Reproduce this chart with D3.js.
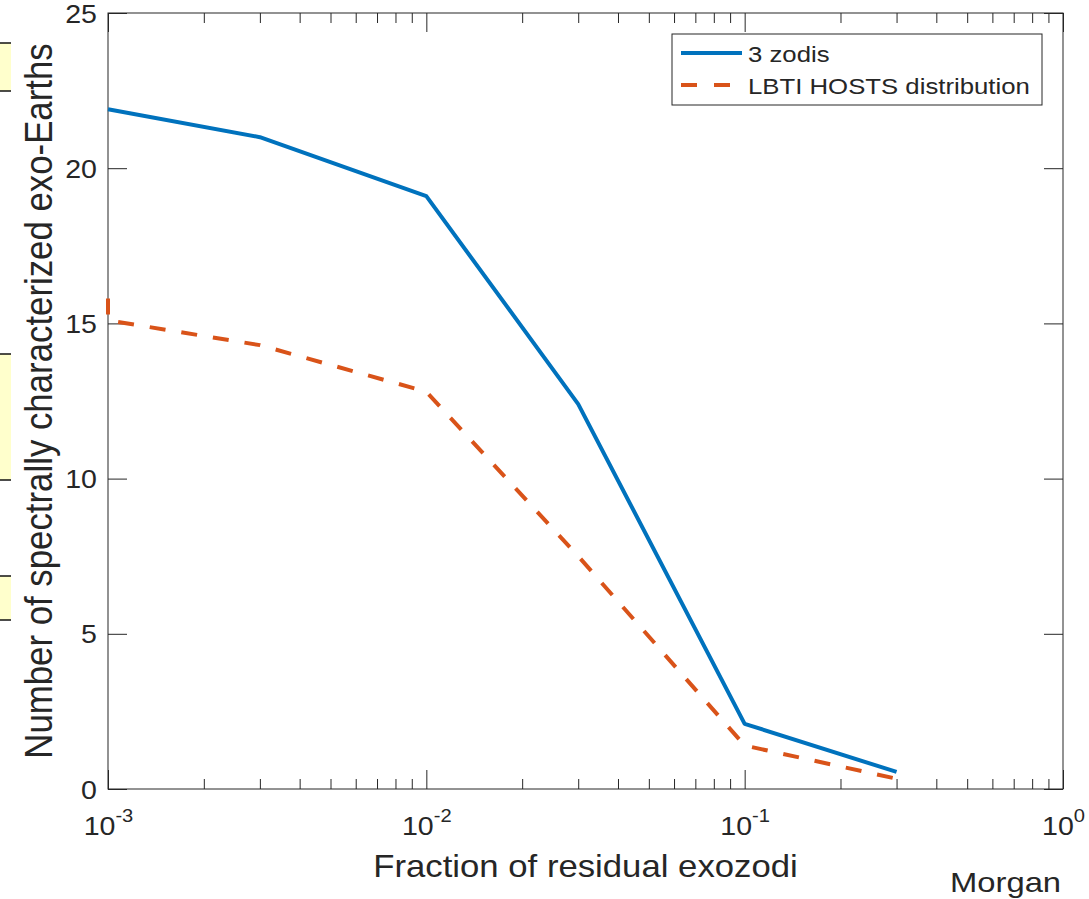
<!DOCTYPE html>
<html>
<head>
<meta charset="utf-8">
<script src="https://cdn.jsdelivr.net/npm/d3@7"></script>
<style>
  body { margin: 0; background: #fff; }
  svg { display: block; }
  text { font-family: "Liberation Sans", Arial, Helvetica, sans-serif; fill: #262626; }
</style>
</head>
<body>
<div id="chart"></div>
<script>
// data
var fracX = [0.001, 0.003, 0.01, 0.03, 0.1, 0.3];
var zodis3 = [21.9, 21.0, 19.1, 12.4, 2.1, 0.55];
var lbtiX = [0.001, 0.001, 0.003, 0.01, 0.03, 0.1, 0.3];
var lbtiY = [15.8, 15.1, 14.3, 12.8, 7.5, 1.4, 0.33];
var seriesNames = ['3 zodis', 'LBTI HOSTS distribution'];
var xTickExp = [-3, -2, -1, 0];
var yTicks = [0, 5, 10, 15, 20, 25];

var W = 1089, H = 899;
var sx = 1.12; // the reference is a bit stretched sideways
var margin = {left: 108, right: 1089 - 1063, top: 13, bottom: 899 - 789};
var blue = '#0072BD', red = '#D95319', axCol = '#262626';

var svg = d3.select('#chart').append('svg')
  .attr('width', W)
  .attr('height', H);

// bits of the document behind the figure, left edge
[[43, 91], [354, 480], [576, 620]].forEach(function(b) {
  svg.append('rect')
    .attr('x', 0).attr('y', b[0])
    .attr('width', 11).attr('height', b[1] - b[0])
    .attr('fill', '#ffffcc');
  b.forEach(function(yy) {
    svg.append('line')
      .attr('x1', 0).attr('x2', 11).attr('y1', yy).attr('y2', yy)
      .attr('stroke', '#111').attr('stroke-width', 1.5);
  });
});

var x = d3.scaleLog().domain([1e-3, 1]).range([margin.left, W - margin.right]);
var y = d3.scaleLinear().domain([0, 25]).range([H - margin.bottom, margin.top]);

var majors = xTickExp.map(function(e) { return Math.pow(10, e); });
var minors = [];
xTickExp.slice(0, -1).forEach(function(e) {
  for (var k = 2; k <= 9; k++) minors.push(k * Math.pow(10, e));
});

function styleAxis(g) {
  g.select('.domain').remove();
  g.selectAll('line').attr('stroke', axCol).attr('stroke-width', 1);
}

// box
svg.append('rect')
  .attr('x', x.range()[0]).attr('y', y.range()[1])
  .attr('width', x.range()[1] - x.range()[0])
  .attr('height', y.range()[0] - y.range()[1])
  .attr('fill', 'none').attr('stroke', axCol).attr('stroke-width', 1);

// bottom and top axes, major + minor ticks, inward
var xAxisG = svg.append('g')
  .attr('transform', 'translate(0,' + y(0) + ')')
  .call(d3.axisBottom(x).tickValues(majors).tickSize(-19).tickFormat(''))
  .call(styleAxis);
svg.append('g')
  .attr('transform', 'translate(0,' + y(0) + ')')
  .call(d3.axisBottom(x).tickValues(minors).tickSize(-10).tickFormat(''))
  .call(styleAxis);
svg.append('g')
  .attr('transform', 'translate(0,' + y(25) + ')')
  .call(d3.axisTop(x).tickValues(majors).tickSize(-19).tickFormat(''))
  .call(styleAxis);
svg.append('g')
  .attr('transform', 'translate(0,' + y(25) + ')')
  .call(d3.axisTop(x).tickValues(minors).tickSize(-10).tickFormat(''))
  .call(styleAxis);

// x tick labels as 10^n
xAxisG.selectAll('.tick').each(function(d, i) {
  var t = d3.select(this).append('text')
    .attr('y', 46)
    .attr('text-anchor', 'middle')
    .attr('font-size', 25.5)
    .attr('transform', 'scale(' + sx + ',1)');
  t.append('tspan').text('10');
  t.append('tspan').attr('dy', -13).attr('font-size', 18).text(xTickExp[i]);
});

// left / right axes
svg.append('g')
  .attr('transform', 'translate(' + x(1e-3) + ',0)')
  .call(d3.axisLeft(y).tickValues(yTicks).tickSize(-19).tickPadding(11))
  .call(styleAxis)
  .selectAll('text')
  .attr('font-size', 25.5)
  .attr('fill', axCol)
  .attr('x', -11 / sx)
  .attr('dy', '0.36em')
  .attr('transform', 'scale(' + sx + ',1)');
svg.append('g')
  .attr('transform', 'translate(' + x(1) + ',0)')
  .call(d3.axisRight(y).tickValues(yTicks).tickSize(-19).tickFormat(''))
  .call(styleAxis);

// lines
svg.append('clipPath').attr('id', 'plotclip').append('rect')
  .attr('x', x.range()[0] - 3).attr('y', y.range()[1])
  .attr('width', x.range()[1] - x.range()[0] + 3)
  .attr('height', y.range()[0] - y.range()[1]);

var line = d3.line()
  .x(function(d) { return x(d[0]); })
  .y(function(d) { return y(d[1]); });

svg.append('path')
  .datum(lbtiX.map(function(v, i) { return [v, lbtiY[i]]; }))
  .attr('d', line)
  .attr('fill', 'none')
  .attr('stroke', red)
  .attr('stroke-width', 4)
  .attr('stroke-dasharray', '16,16')
  .attr('clip-path', 'url(#plotclip)');

svg.append('path')
  .datum(fracX.map(function(v, i) { return [v, zodis3[i]]; }))
  .attr('d', line)
  .attr('fill', 'none')
  .attr('stroke', blue)
  .attr('stroke-width', 4)
  .attr('stroke-linejoin', 'round')
  .attr('clip-path', 'url(#plotclip)');

// legend
var legend = svg.append('g').attr('transform', 'translate(672,34)');
legend.append('rect')
  .attr('width', 370).attr('height', 71)
  .attr('fill', '#fff').attr('stroke', axCol).attr('stroke-width', 1);
var leg = legend.selectAll('.leg')
  .data(seriesNames)
  .enter().append('g')
  .attr('class', 'leg')
  .attr('transform', function(d, i) { return 'translate(0,' + (19 + i * 32) + ')'; });
leg.append('line')
  .attr('x1', 9).attr('x2', 70)
  .attr('stroke', function(d, i) { return i ? red : blue; })
  .attr('stroke-width', 4)
  .attr('stroke-dasharray', function(d, i) { return i ? '16,17' : null; });
leg.append('text')
  .attr('x', 76 / sx)
  .attr('y', 9)
  .attr('font-size', 23)
  .attr('transform', 'scale(' + sx + ',1)')
  .text(function(d) { return d; });

// axis titles
svg.append('text')
  .attr('text-anchor', 'middle')
  .attr('font-size', 31)
  .attr('transform', 'translate(' + ((x.range()[0] + x.range()[1]) / 2) + ',877) scale(' + sx + ',1)')
  .text('Fraction of residual exozodi');

svg.append('text')
  .attr('text-anchor', 'middle')
  .attr('font-size', 34.8)
  .attr('transform', 'translate(52,401) scale(' + sx + ',1) rotate(-90)')
  .text('Number of spectrally characterized exo-Earths');

// presenter note
svg.append('text')
  .attr('font-family', '"DejaVu Sans", Verdana, sans-serif')
  .attr('font-size', 28)
  .attr('fill', '#111')
  .attr('transform', 'translate(950,892) scale(1.17,1)')
  .text('Morgan');
</script>
</body>
</html>
